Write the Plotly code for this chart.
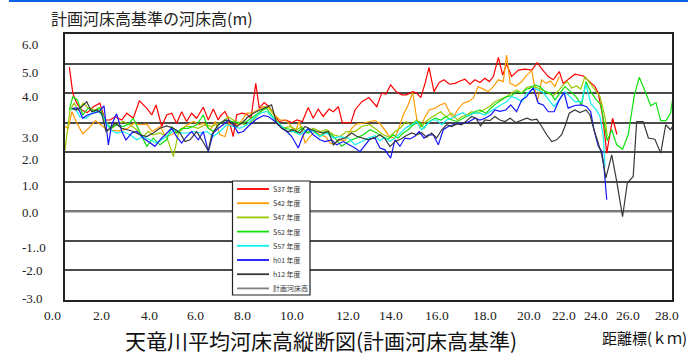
import plotly.graph_objects as go

# ---------------------------------------------------------------------------
# Average riverbed elevation relative to the planned bed (m) along the river,
# by survey year. Distance in km from the river mouth.
# ---------------------------------------------------------------------------

s37_km = [0.2, 0.36, 0.54, 0.77, 1.03, 1.31, 1.61, 1.85, 2.08, 2.31, 2.62, 2.85, 3.15, 3.43, 3.77,
          4.0, 4.2, 4.46, 4.69, 4.92, 5.15, 5.38, 5.61, 5.84, 6.07, 6.38, 6.61, 6.84, 7.07, 7.15,
          7.38, 7.56, 7.76, 7.92, 8.15, 8.38, 8.58, 8.8, 8.96, 9.19, 9.41, 9.65, 9.87, 10.18, 10.46,
          10.69, 10.95, 11.22, 11.45, 11.68, 11.91, 12.18, 12.38, 12.61, 12.79, 12.99, 13.19, 13.38,
          13.69, 14.02, 14.38, 14.61, 14.81, 15.02, 15.27, 15.53, 15.76, 16.04, 16.22, 16.41, 16.61,
          16.79, 17.02, 17.26, 17.48, 17.73, 17.99, 18.22, 18.45, 18.68, 18.91, 19.14, 19.37, 19.57,
          19.76, 19.99, 20.19, 20.37, 20.6, 20.91, 21.22, 21.53, 21.78, 22.06, 22.29, 22.52, 22.8,
          22.98, 23.29, 23.52, 23.91, 24.22, 24.45, 24.6, 24.8, 24.99, 25.26, 25.46]
s37_z = [4.88, 4.0, 3.66, 3.43, 3.34, 3.54, 3.66, 3.09, 3.09, 3.2, 3.09, 3.32, 3.15, 3.74, 3.49,
         3.26, 3.6, 2.87, 3.26, 3.32, 2.98, 3.37, 3.04, 3.32, 3.15, 3.52, 3.09, 3.46, 3.09, 3.21,
         3.38, 3.09, 2.53, 3.26, 3.32, 3.29, 3.15, 4.33, 3.49, 3.68, 3.54, 3.29, 3.04, 3.09, 3.0,
         3.09, 3.04, 3.51, 3.15, 3.46, 3.21, 3.46, 3.37, 3.54, 3.0, 3.0, 3.0, 3.43,
         3.71, 3.85, 3.54, 4.0, 3.97, 4.28, 4.05, 3.94, 3.94, 4.05, 4.0, 3.85, 4.33,
         4.87, 4.05, 4.36, 4.45, 4.3, 4.33, 4.41, 4.47, 4.3, 4.45, 4.36, 4.5, 4.39,
         4.56, 5.21, 4.61, 4.99, 4.56, 4.78, 4.81, 4.78, 5.03, 4.76, 4.56, 4.45, 4.73,
         4.33, 4.5, 4.64, 4.58, 4.39, 4.22, 4.0, 3.21, 1.97, 3.15, 2.6]

s42_km = [0.0, 0.15, 0.32, 0.55, 0.82, 1.09, 1.4, 1.67, 1.94, 2.48, 2.86, 3.17, 3.47, 3.78, 4.01,
          4.4, 4.63, 4.94, 5.32, 5.63, 5.94, 6.17, 6.4, 6.7, 6.93, 7.15, 7.38, 7.56, 7.84, 8.12,
          8.38, 8.63, 8.89, 9.15, 9.41, 9.65, 9.92, 10.18, 10.38, 10.61, 10.79, 10.95, 11.07, 11.3,
          11.53, 11.76, 12.02, 12.22, 12.42, 12.64, 12.92, 13.22, 13.45, 13.76, 14.07, 14.3, 14.53,
          14.76, 14.99, 15.22, 15.42, 15.6, 15.83, 16.04, 16.22, 16.37, 16.61, 16.8, 17.07, 17.3,
          17.53, 17.73, 17.91, 18.1, 18.37, 18.6, 18.83, 19.06, 19.29, 19.52, 19.76, 19.99, 20.22,
          20.37, 20.53, 20.8, 21.07, 21.3, 21.53, 21.79, 21.99, 22.19, 22.4, 22.6, 22.8]
s42_z = [2.87, 2.81, 3.37, 2.98, 2.62, 2.81, 3.07, 2.93, 2.76, 2.72, 2.79, 2.98, 2.93, 2.95, 2.7,
         2.87, 2.53, 2.6, 2.76, 2.93, 3.04, 2.93, 2.98, 2.76, 3.04, 2.59, 2.53, 2.98, 2.87, 3.04,
         3.32, 3.32, 3.43, 3.54, 3.49, 3.26, 3.09, 3.09, 2.93, 2.65, 3.04, 2.7, 2.31, 2.53,
         2.7, 2.59, 2.53, 2.31, 2.27, 2.42, 2.39, 2.81, 2.96, 2.98, 3.04, 3.07, 2.97,
         2.76, 2.51, 2.48, 2.85, 3.26, 3.6, 4.02, 3.15, 2.81, 3.2, 3.43, 3.49, 3.6,
         3.66, 3.37, 3.15, 3.43, 3.66, 3.71, 3.83, 4.22, 4.13, 4.05, 4.22, 4.45, 4.39,
         5.29, 4.33, 4.24, 4.39, 4.61, 4.76, 3.71, 4.45, 4.33, 4.41, 4.22, 4.56]

s47_km = [0.0, 0.23, 0.42, 0.61, 0.84, 1.07, 1.38, 1.61, 1.85, 2.08, 2.38, 2.69, 3.0, 3.31, 3.61,
          3.84, 4.07, 4.38, 4.69, 5.0, 5.23, 5.54, 5.84, 6.15, 6.46, 6.77, 7.07, 7.3, 7.53, 7.76,
          8.07, 8.38, 8.69, 9.0, 9.23, 9.46, 9.76, 10.07, 10.38, 10.69, 10.92, 11.15, 11.45, 11.76,
          12.07, 12.38, 12.68, 12.99, 13.38, 13.69, 14.07, 14.38, 14.68, 14.96, 15.22, 15.45, 15.73,
          15.95, 16.22, 16.45, 16.65, 16.84, 17.07, 17.33, 17.57, 17.84, 18.1, 18.3, 18.53, 18.76,
          19.02, 19.29, 19.57, 19.83, 20.1, 20.37, 20.6, 20.83, 21.07, 21.3, 21.45, 21.68, 21.94,
          22.22, 22.52, 22.8, 22.98, 23.17, 23.37, 23.6, 23.79, 23.99, 24.22, 24.45, 24.68, 24.91,
          25.01]
s47_z = [2.08, 3.43, 3.66, 3.43, 3.66, 3.49, 3.43, 3.52, 3.09, 2.81, 2.93, 3.04, 2.93, 2.76, 2.53,
         2.7, 2.59, 2.65, 2.53, 1.85, 2.65, 2.87, 2.87, 2.81, 2.93, 2.87, 2.98, 3.04, 3.2, 3.09,
         2.98, 2.93, 3.09, 3.32, 3.54, 3.49, 3.09, 2.81, 2.87, 2.76, 2.87, 2.65, 2.81, 2.7,
         2.76, 2.59, 2.53, 2.7, 2.7, 2.87, 2.93, 2.76, 2.59, 2.51, 2.7, 2.81, 3.04,
         2.93, 3.09, 2.87, 3.04, 3.15, 3.26, 3.37, 3.2, 3.32, 3.09, 3.2, 3.26, 3.37,
         3.32, 3.43, 3.54, 3.71, 3.79, 3.88, 4.0, 4.11, 4.0, 4.2, 4.22, 4.2, 4.14,
         4.02, 3.91, 4.11, 4.28, 4.39, 4.17, 4.24, 4.14, 4.56, 4.33, 4.11, 3.88, 3.2,
         2.53]

s52_km = [0.2, 0.36, 0.57, 0.82, 1.07, 1.35, 1.61, 1.89, 2.15, 2.38, 2.69, 2.92, 3.15, 3.46, 3.77,
          4.07, 4.38, 4.69, 4.92, 5.15, 5.38, 5.69, 6.07, 6.38, 6.61, 6.84, 7.15, 7.46, 7.76, 8.07,
          8.38, 8.69, 9.0, 9.3, 9.53, 9.84, 10.15, 10.46, 10.69, 10.92, 11.22, 11.45, 11.76, 11.99,
          12.3, 12.53, 12.76, 12.99, 13.22, 13.45, 13.76, 14.07, 14.38, 14.68, 14.91, 15.14, 15.37,
          15.6, 15.83, 16.07, 16.34, 16.56, 16.8, 17.07, 17.33, 17.57, 17.84, 18.1, 18.37, 18.65,
          18.91, 19.14, 19.42, 19.64, 19.91, 20.14, 20.37, 20.6, 20.83, 21.07, 21.3, 21.45, 21.68,
          21.91, 22.14, 22.4, 22.6, 22.83, 23.06, 23.33, 23.57, 23.83, 24.03, 24.25, 24.49, 24.72,
          24.91, 25.01, 25.22, 25.45, 25.72, 25.98, 26.25, 26.49, 26.75, 27.02, 27.26, 27.48, 27.72,
          27.93, 28.06]
s52_z = [3.43, 3.88, 3.77, 3.26, 3.49, 3.38, 3.49, 2.98, 2.81, 2.93, 2.87, 2.95, 3.15, 2.65, 2.2,
         2.48, 2.25, 2.42, 2.87, 2.65, 2.81, 2.81, 2.93, 3.26, 2.81, 2.7, 2.98, 3.09, 3.04, 2.98,
         3.04, 3.2, 3.37, 3.49, 3.26, 2.93, 2.81, 2.76, 2.65, 2.81, 2.65, 2.76, 2.53, 2.7,
         2.59, 2.42, 2.2, 2.31, 2.42, 2.48, 2.59, 2.76, 2.65, 2.51, 2.44, 2.59, 2.48,
         2.65, 2.76, 2.93, 3.04, 2.81, 3.04, 3.15, 3.09, 3.2, 3.09, 3.04, 3.15, 3.26,
         3.37, 3.43, 3.32, 3.49, 3.66, 3.77, 3.88, 3.91, 4.05, 4.0, 4.14, 4.17, 4.28,
         4.22, 4.05, 4.0, 3.77, 4.0, 4.22, 4.05, 3.88, 3.6, 4.39, 4.05, 3.79, 3.6,
         2.87, 2.39, 2.76, 2.25, 2.1, 2.59, 3.88, 4.54, 4.08, 3.57, 3.68, 3.07, 3.07,
         3.32, 3.94]

s57_km = [0.26, 0.46, 0.69, 0.97, 1.23, 1.54, 1.77, 2.08, 2.38, 2.69, 3.0, 3.31, 3.61, 3.92, 4.23,
          4.46, 4.76, 5.07, 5.38, 5.69, 5.92, 6.23, 6.54, 6.84, 7.15, 7.46, 7.76, 8.07, 8.38, 8.69,
          9.0, 9.3, 9.61, 9.92, 10.23, 10.53, 10.84, 11.15, 11.45, 11.76, 12.07, 12.38, 12.68, 13.07,
          13.38, 13.69, 13.99, 14.3, 14.53, 14.76, 14.99, 15.27, 15.53, 15.76, 15.99, 16.22, 16.45,
          16.68, 16.91, 17.14, 17.38, 17.61, 17.84, 18.1, 18.34, 18.6, 18.86, 19.14, 19.37, 19.6,
          19.83, 20.1, 20.37, 20.6, 20.83, 21.07, 21.3, 21.45, 21.6, 21.83, 22.06, 22.29, 22.56,
          22.8, 23.06, 23.29, 23.52, 23.83, 24.03, 24.25, 24.49, 24.68, 24.83, 24.91]
s57_z = [3.43, 3.49, 3.2, 3.15, 3.32, 3.38, 3.2, 2.76, 2.65, 2.7, 2.59, 2.42, 2.53, 2.42, 2.31,
         2.42, 2.59, 2.76, 2.65, 2.65, 2.7, 2.65, 2.7, 2.53, 2.7, 2.93, 2.87, 2.81, 2.93, 3.15,
         3.32, 3.38, 3.15, 2.93, 2.7, 2.7, 2.59, 2.76, 2.7, 2.53, 2.65, 2.48, 2.53, 2.48,
         2.25, 2.36, 2.48, 2.56, 2.39, 2.51, 2.36, 2.51, 2.7, 2.85, 2.93, 3.04, 2.76,
         2.93, 3.09, 3.09, 2.93, 3.09, 3.15, 3.26, 3.34, 3.22, 3.32, 3.32, 3.26, 3.37,
         3.49, 3.6, 3.71, 3.88, 3.83, 3.71, 4.0, 4.05, 4.17, 4.11, 4.02, 3.79, 3.54,
         3.77, 4.05, 3.88, 3.71, 3.71, 4.31, 3.65, 3.45, 3.21, 2.53, 1.52]

h01_km = [0.38, 0.61, 0.82, 1.03, 1.31, 1.58, 1.8, 2.0, 2.15, 2.38, 2.62, 2.81, 3.08, 3.31, 3.61,
          3.84, 4.15, 4.38, 4.69, 4.92, 5.15, 5.38, 5.61, 5.84, 6.15, 6.38, 6.61, 6.84, 7.07, 7.3,
          7.53, 7.76, 7.99, 8.22, 8.53, 8.84, 9.15, 9.38, 9.69, 10.0, 10.23, 10.46, 10.76, 10.99,
          11.22, 11.45, 11.76, 11.99, 12.3, 12.53, 12.84, 13.07, 13.38, 13.61, 13.84, 14.07, 14.3,
          14.53, 14.76, 15.02, 15.22, 15.45, 15.68, 15.91, 16.14, 16.34, 16.56, 16.76, 16.99, 17.22,
          17.45, 17.68, 17.91, 18.14, 18.37, 18.65, 18.91, 19.14, 19.37, 19.64, 19.83, 20.06, 20.34,
          20.56, 20.83, 21.07, 21.3, 21.45, 21.6, 21.83, 22.06, 22.29, 22.56, 22.8, 23.02, 23.21,
          23.52, 23.83, 24.06, 24.25, 24.4, 24.6, 24.76, 24.86, 24.99]
h01_z = [3.49, 3.49, 3.15, 3.26, 3.32, 3.38, 3.57, 2.25, 2.93, 3.3, 2.7, 2.42, 2.65, 2.7, 2.48,
         2.36, 2.2, 2.42, 2.65, 2.81, 2.53, 2.31, 2.53, 2.7, 2.42, 2.7, 2.02, 2.65, 2.81, 2.93,
         3.09, 2.93, 2.65, 2.7, 2.93, 3.12, 3.24, 3.21, 3.04, 2.81, 2.7, 2.53, 2.14, 2.59,
         2.81, 2.59, 2.42, 2.36, 2.42, 2.25, 2.36, 2.27, 2.14, 2.02, 2.25, 2.45, 2.48,
         2.14, 2.08, 1.8, 2.42, 2.2, 2.48, 2.45, 2.54, 2.7, 2.48, 2.59, 2.59, 2.25,
         2.76, 2.87, 2.93, 2.98, 2.98, 3.04, 3.15, 3.09, 3.15, 3.26, 3.43, 3.38, 3.43,
         3.6, 3.37, 3.77, 3.88, 4.05, 4.17, 3.66, 3.6, 3.37, 3.37, 3.77, 4.02, 3.49,
         3.58, 3.6, 3.54, 3.37, 2.76, 2.2, 2.03, 1.52, 0.39]

h12_km = [0.31, 0.51, 0.77, 1.0, 1.23, 1.46, 1.69, 1.89, 2.08, 2.31, 2.62, 2.85, 3.15, 3.46, 3.77,
          4.07, 4.38, 4.69, 5.0, 5.3, 5.54, 5.77, 6.07, 6.31, 6.61, 6.77, 7.07, 7.38, 7.61, 7.92,
          8.15, 8.45, 8.69, 9.0, 9.3, 9.53, 9.76, 10.0, 10.3, 10.53, 10.84, 11.07, 11.38, 11.61,
          11.91, 12.15, 12.38, 12.61, 12.92, 13.22, 13.45, 13.69, 13.99, 14.3, 14.53, 14.76, 14.99,
          15.22, 15.48, 15.73, 15.99, 16.22, 16.45, 16.68, 16.91, 17.14, 17.38, 17.61, 17.84, 18.07,
          18.3, 18.53, 18.76, 18.96, 19.17, 19.37, 19.6, 19.83, 20.06, 20.3, 20.53, 20.8, 21.07,
          21.3, 21.53, 21.76, 21.99, 22.22, 22.45, 22.68, 22.91, 23.06, 23.26, 23.52, 23.75, 24.03,
          24.22, 24.4, 24.6, 24.76, 24.95, 25.22, 25.45, 25.72, 25.94, 26.21, 26.37, 26.67, 26.91,
          27.21, 27.48, 27.71, 27.93, 28.08]
h12_z = [3.49, 3.43, 3.54, 3.71, 3.37, 3.43, 3.32, 2.7, 2.81, 2.98, 2.81, 2.76, 2.7, 2.59, 2.53,
         2.65, 2.81, 2.89, 2.81, 2.65, 2.36, 2.42, 2.7, 2.42, 2.05, 2.59, 2.93, 3.09, 3.04, 2.87,
         2.98, 3.2, 3.32, 3.43, 3.52, 3.6, 2.98, 2.81, 2.7, 2.76, 2.65, 2.87, 2.76, 2.7,
         2.65, 2.7, 2.25, 2.42, 2.48, 2.65, 2.54, 2.48, 2.42, 2.5, 2.59, 2.46, 2.19,
         2.36, 2.44, 2.56, 2.65, 2.59, 2.66, 2.51, 2.65, 2.48, 2.76, 2.93, 2.87, 2.96,
         2.93, 3.07, 3.21, 3.15, 2.89, 3.09, 3.07, 3.21, 3.09, 3.04, 3.15, 3.0, 3.07,
         3.15, 3.09, 3.12, 2.87, 2.59, 2.36, 2.42, 2.59, 2.87, 3.32, 3.43, 3.34, 3.43,
         3.26, 2.76, 2.31, 1.91, 1.13, 1.91, 1.01, -0.18, 0.96, 1.18, 3.04, 3.04, 2.48,
         2.44, 1.97, 2.93, 2.76, 2.93]

plan_km = [0.0, 28.05]
plan_z = [0.0, 0.0]

series = [
    ("S37 年度", s37_km, s37_z, "#ff0000"),
    ("S42 年度", s42_km, s42_z, "#ff9a00"),
    ("S47 年度", s47_km, s47_z, "#99c800"),
    ("S52 年度", s52_km, s52_z, "#10e010"),
    ("S57 年度", s57_km, s57_z, "#10f0f0"),
    ("h01 年度", h01_km, h01_z, "#1414ff"),
    ("h12 年度", h12_km, h12_z, "#383838"),
]
plan_name = "計画河床高"
plan_color = "#808080"

y_tick_text = ["6.0", "5.0", "4.0", "3.0", "2.0", "1.0", "0.0", "-1..0", "-2.0", "-3.0"]
x_tick_text = ["0.0", "2.0", "4.0", "6.0", "8.0", "10.0", "12.0", "14.0", "16.0", "18.0",
               "20.0", "22.0", "24.0", "26.0", "28.0"]

y_title = "計画河床高基準の河床高(m)"
x_title = "距離標(ｋｍ)"
main_title = "天竜川平均河床高縦断図(計画河床高基準)"

# ---------------------------------------------------------------------------
W, H = 688, 356
L, R, T, B = 65, 672, 34, 300


def px(x):
    """page column -> paper x"""
    return (x - L) / (R - L)


def py(y):
    """page row -> paper y"""
    return (B - y) / (B - T)


# rows / columns of the hand-placed axis labels
y_label_rows = [45, 72, 97, 137, 159, 185, 213, 247, 270, 298]
x_label_cols = [52, 101, 149, 195, 242, 292, 348, 391, 437, 485, 529, 564, 596, 628, 667]

SERIF = "Liberation Serif, Times New Roman, serif"
SANS = "Noto Sans CJK JP, Noto Sans, sans-serif"

fig = go.Figure()

fig.add_trace(go.Scatter(x=plan_km, y=plan_z, mode="lines", name=plan_name,
                         line=dict(color=plan_color, width=2.2), showlegend=False))
for name, km, z, color in series:
    fig.add_trace(go.Scatter(x=km, y=z, mode="lines", name=name,
                             line=dict(color=color, width=1.2), showlegend=False))

annotations = []
for txt, row in zip(y_tick_text, y_label_rows):
    annotations.append(dict(text=txt, x=px(20.5), y=py(row), xref="paper", yref="paper",
                            xanchor="left", yanchor="middle", showarrow=False, borderpad=0,
                            font=dict(family=SERIF, size=13, color="#222")))
for txt, col in zip(x_tick_text, x_label_cols):
    annotations.append(dict(text=txt, x=px(col), y=py(315), xref="paper", yref="paper",
                            xanchor="center", yanchor="middle", showarrow=False, borderpad=0,
                            font=dict(family=SERIF, size=13.5, color="#222")))

annotations.append(dict(text=y_title, x=px(49), y=py(18), xref="paper", yref="paper",
                        xanchor="left", yanchor="middle", showarrow=False,
                        font=dict(family=SANS, size=16, color="#222")))
annotations.append(dict(text=main_title, x=px(124), y=py(340), xref="paper", yref="paper",
                        xanchor="left", yanchor="middle", showarrow=False, borderpad=0,
                        font=dict(family=SANS, size=21, color="#111")))
annotations.append(dict(text=x_title, x=px(601), y=py(337), xref="paper", yref="paper",
                        xanchor="left", yanchor="middle", showarrow=False, borderpad=0,
                        font=dict(family=SANS, size=15, color="#111")))

shapes = [
    # blue rule across the top of the page
    dict(type="rect", xref="paper", yref="paper", x0=px(9), x1=px(688), y0=py(2), y1=py(0),
         fillcolor="#0a62e8", line=dict(width=0), layer="above"),
    # legend frame
    dict(type="rect", xref="paper", yref="paper", x0=px(232.5), x1=px(310), y0=py(295), y1=py(181),
         fillcolor="white", line=dict(color="#222", width=1.2), layer="above"),
]

legend_items = [(n, c) for n, _, _, c in series] + [(plan_name, plan_color)]
for i, (name, color) in enumerate(legend_items):
    row = 189 + 14.2 * i
    shapes.append(dict(type="line", xref="paper", yref="paper", x0=px(237), x1=px(269),
                       y0=py(row), y1=py(row), line=dict(color=color, width=1.8), layer="above"))
    annotations.append(dict(text=name, x=px(271.5), y=py(row), xref="paper", yref="paper",
                            xanchor="left", yanchor="middle", showarrow=False, borderpad=0,
                            font=dict(family=SANS, size=7, color="#333")))

fig.update_layout(
    width=W, height=H,
    margin=dict(l=L, r=W - R, t=T, b=H - B, pad=0),
    paper_bgcolor="white", plot_bgcolor="white",
    showlegend=False,
    annotations=annotations,
    shapes=shapes,
    xaxis=dict(range=[0, 28], showticklabels=False, ticks="", showgrid=False, zeroline=False,
               showline=True, mirror=True, linecolor="#222", linewidth=2, fixedrange=True),
    yaxis=dict(range=[-3, 6], dtick=1, tick0=0, showticklabels=False, ticks="",
               showgrid=True, gridcolor="#4a4a4a", gridwidth=1.6, zeroline=False,
               showline=True, mirror=True, linecolor="#222", linewidth=2, fixedrange=True),
)

fig.write_html("out.html", config=dict(displayModeBar=False))
